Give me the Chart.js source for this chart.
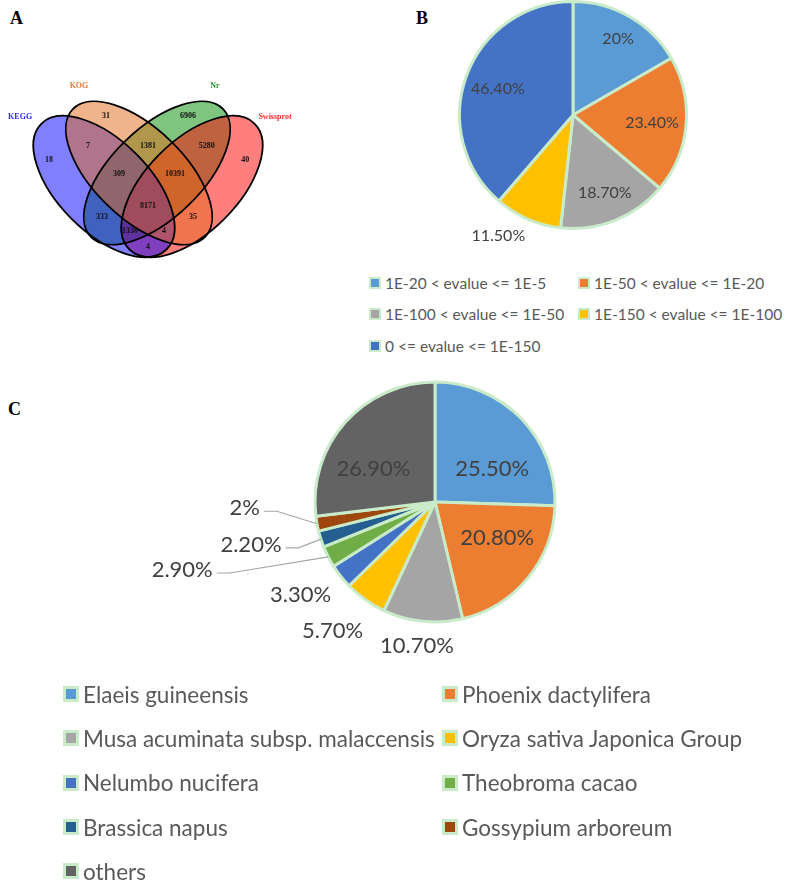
<!DOCTYPE html>
<html>
<head>
<meta charset="utf-8">
<script src="https://cdn.jsdelivr.net/npm/chart.js@4.4.0/dist/chart.umd.min.js"></script>
<style>
  body { margin: 0; background: #fff; width: 787px; height: 881px; position: relative; overflow: hidden; font-family: Lato, sans-serif; }
  .letter { position: absolute; font: bold 18px "Liberation Serif", serif; color: #000; }
  .holder { position: absolute; }
  .legend { position: absolute; display: grid; color: #595959; }
  .legend .item { display: flex; align-items: center; white-space: nowrap; }
  .legend .box { box-sizing: border-box; border-style: solid; border-color: #c9ebc9; }
</style>
</head>
<body>
<div class="letter" style="left:10px;top:8px;">A</div>
<div class="letter" style="left:416px;top:8px;">B</div>
<div class="letter" style="left:8px;top:399px;">C</div>

<div class="holder" style="left:0;top:0;"><canvas id="vennChart" width="340" height="300"></canvas></div>
<div class="holder" style="left:440px;top:0;"><canvas id="evalueChart" width="260" height="250"></canvas></div>
<div class="holder" style="left:140px;top:375px;"><canvas id="speciesChart" width="440" height="300"></canvas></div>

<div class="legend" id="evalueLegend" style="left:369px;top:267px;grid-template-columns:209px 209px;grid-auto-rows:31.5px;font-size:15.5px;"></div>
<div class="legend" id="speciesLegend" style="left:63px;top:672px;grid-template-columns:379px 379px;grid-auto-rows:44.3px;font-size:22.5px;"></div>

<script>
// ---- data ----

// A: venn region counts and where each number sits (unit coords)
const vennCounts = [18, 31, 6906, 40, 7, 1381, 5280, 309, 10391, 8171, 333, 35, 1330, 4, 4];
const vennX = [0.159, 0.355, 0.638, 0.835, 0.293, 0.500, 0.703, 0.400, 0.593, 0.500, 0.341, 0.655, 0.438, 0.555, 0.500];
const vennY = [0.622, 0.773, 0.773, 0.622, 0.670, 0.670, 0.670, 0.573, 0.573, 0.463, 0.425, 0.425, 0.377, 0.377, 0.322];
const vennSets = ['KEGG', 'KOG', 'Nr', 'Swissprot'];

// B: blast e-value distribution
const evalueLabels = ['1E-20 < evalue <= 1E-5', '1E-50 < evalue <= 1E-20', '1E-100 < evalue <= 1E-50', '1E-150 < evalue <= 1E-100', '0 <= evalue <= 1E-150'];
const evalueValues = [20, 23.4, 18.7, 11.5, 46.4];

// C: top species
const speciesLabels = ['Elaeis guineensis', 'Phoenix dactylifera', 'Musa acuminata subsp. malaccensis', 'Oryza sativa Japonica Group', 'Nelumbo nucifera', 'Theobroma cacao', 'Brassica napus', 'Gossypium arboreum', 'others'];
const speciesValues = [25.5, 20.8, 10.7, 5.7, 3.3, 2.9, 2.2, 2, 26.9];

// ---- look ----
const evalueColors = ['#5b9bd5', '#ed7d31', '#a5a5a5', '#ffc000', '#4472c4'];
const speciesColors = ['#5b9bd5', '#ed7d31', '#a5a5a5', '#ffc000', '#4472c4', '#70ad47', '#255e91', '#9e480e', '#636363'];
const sliceBorder = '#c9ebc9';

// ellipse geometry (unit coords), set order = vennSets
const ellipses = [
  { cx: 0.3483, cy: 0.5303, a: 0.3059, b: 0.1579, rot: -45, fill: 'rgba(0,0,255,0.5)', text: '#2b2bff', lx: 0.059, ly: 0.770 },
  { cx: 0.469, cy: 0.5769, a: 0.3172, b: 0.1552, rot: -44, fill: 'rgba(225,105,25,0.5)', text: '#e07b39', lx: 0.262, ly: 0.877 },
  { cx: 0.531, cy: 0.5769, a: 0.3172, b: 0.1552, rot: 44, fill: 'rgba(0,139,0,0.5)', text: '#2f8f2f', lx: 0.731, ly: 0.877 },
  { cx: 0.6517, cy: 0.5303, a: 0.3059, b: 0.1579, rot: 45, fill: 'rgba(255,0,0,0.5)', text: '#ff2a2a', lx: 0.938, ly: 0.770 }
];
const fillOrder = [2, 3, 0, 1];

// label spots: turn (deg from slice middle), reach (x outer radius)
const evalueSpots = [
  { turn: 0.6, reach: 0.78 }, { turn: 0.6, reach: 0.70 }, { turn: -0.5, reach: 0.74 },
  { turn: 8.2, reach: 1.25 }, { turn: -1.4, reach: 0.70 }
];
const speciesSpots = [
  { turn: 14.1, reach: 0.55 }, { turn: -9.1, reach: 0.60 }, { turn: 1.2, reach: 1.21 },
  { turn: 3.1, reach: 1.37 }, { turn: 3.8, reach: 1.36 }, { turn: 8.1, reach: 1.81, leader: true },
  { turn: -0.6, reach: 1.20, leader: true }, { turn: 7.1, reach: 1.32, leader: true }, { turn: -13.6, reach: 0.58 }
];

// ---- plugins ----
const vennPlugin = {
  id: 'vennShapes',
  beforeDatasetsDraw(chart) {
    const ctx = chart.ctx;
    const xs = chart.scales.x, ys = chart.scales.y;
    const px0 = xs.getPixelForValue(0), sx = xs.getPixelForValue(1) - px0;
    const py0 = ys.getPixelForValue(0), sy = py0 - ys.getPixelForValue(1);
    const trace = (e) => {
      ctx.save();
      ctx.translate(px0, py0);
      ctx.scale(sx, -sy);
      ctx.beginPath();
      ctx.ellipse(e.cx, e.cy, e.a, e.b, e.rot * Math.PI / 180, 0, Math.PI * 2);
      ctx.restore();
    };
    fillOrder.forEach(i => {
      trace(ellipses[i]);
      ctx.fillStyle = ellipses[i].fill;
      ctx.fill();
    });
    ctx.save();
    ctx.strokeStyle = '#000';
    ctx.lineWidth = 1.8;
    ellipses.forEach(e => { trace(e); ctx.stroke(); });
    ctx.restore();
  },
  afterDatasetsDraw(chart) {
    const ctx = chart.ctx;
    const xs = chart.scales.x, ys = chart.scales.y;
    ctx.save();
    ctx.textAlign = 'center';
    ctx.textBaseline = 'middle';
    ctx.font = 'bold 8px "Liberation Serif", serif';
    ctx.fillStyle = '#111';
    chart.getDatasetMeta(0).data.forEach((pt, i) => {
      ctx.fillText(String(vennCounts[i]), pt.x, pt.y);
    });
    ellipses.forEach((e, i) => {
      ctx.fillStyle = e.text;
      ctx.fillText(vennSets[i], xs.getPixelForValue(e.lx), ys.getPixelForValue(e.ly));
    });
    ctx.restore();
  }
};

const pctText = v => Number.isInteger(v) ? v + '%' : v.toFixed(2) + '%';

const pieLabels = {
  id: 'pieLabels',
  afterDatasetsDraw(chart, args, opts) {
    const ctx = chart.ctx;
    const values = chart.data.datasets[0].data;
    ctx.save();
    ctx.font = opts.font;
    ctx.textBaseline = 'middle';
    chart.getDatasetMeta(0).data.forEach((arc, i) => {
      const spot = opts.spots[i];
      const mid = (arc.startAngle + arc.endAngle) / 2;
      const ang = mid + spot.turn * Math.PI / 180;
      const r = arc.outerRadius * spot.reach;
      const x = arc.x + Math.cos(ang) * r;
      const y = arc.y + Math.sin(ang) * r;
      if (spot.leader) {
        ctx.strokeStyle = '#a6a6a6';
        ctx.lineWidth = 1.2;
        ctx.beginPath();
        ctx.moveTo(arc.x + Math.cos(mid) * arc.outerRadius, arc.y + Math.sin(mid) * arc.outerRadius);
        ctx.lineTo(x, y);
        ctx.lineTo(x - 13, y);
        ctx.stroke();
        ctx.fillStyle = opts.color;
        ctx.textAlign = 'right';
        ctx.fillText(pctText(values[i]), x - 17, y - 3);
      } else {
        ctx.fillStyle = opts.color;
        ctx.textAlign = 'center';
        ctx.fillText(pctText(values[i]), x, y);
      }
    });
    ctx.restore();
  }
};

// ---- charts ----
const vennChart = new Chart(document.getElementById('vennChart'), {
  type: 'scatter',
  data: {
    datasets: [{ data: vennX.map((x, i) => ({ x: x, y: vennY[i] })), pointRadius: 0 }]
  },
  options: {
    responsive: false,
    animation: false,
    layout: { padding: 0 },
    scales: {
      x: { display: false, min: -0.0103, max: 1.1621 },
      y: { display: false, min: 0.139, max: 1.1734 }
    },
    plugins: { legend: { display: false }, tooltip: { enabled: false } }
  },
  plugins: [vennPlugin]
});

function makePie(canvasId, labels, values, colors, padding, spots, font) {
  return new Chart(document.getElementById(canvasId), {
    type: 'pie',
    data: {
      labels: labels,
      datasets: [{
        data: values,
        backgroundColor: colors,
        borderColor: sliceBorder,
        borderWidth: 3,
        hoverOffset: 0
      }]
    },
    options: {
      responsive: false,
      animation: false,
      layout: { padding: padding },
      plugins: {
        legend: { display: false },
        tooltip: { enabled: false },
        pieLabels: { spots: spots, font: font, color: '#404040' }
      }
    },
    plugins: [pieLabels]
  });
}

const evalueChart = makePie('evalueChart', evalueLabels, evalueValues, evalueColors,
  { left: 18, top: 0, right: 12, bottom: 20 }, evalueSpots, '16px Lato, sans-serif');
const speciesChart = makePie('speciesChart', speciesLabels, speciesValues, speciesColors,
  { left: 173.5, top: 5.5, right: 23.5, bottom: 51.5 }, speciesSpots, '22px Lato, sans-serif');

// html legends, two columns like the original
function buildLegend(chart, el, boxSize, borderW) {
  const ds = chart.data.datasets[0];
  chart.data.labels.forEach((name, i) => {
    const item = document.createElement('div');
    item.className = 'item';
    const box = document.createElement('span');
    box.className = 'box';
    box.style.width = boxSize + 'px';
    box.style.height = boxSize + 'px';
    box.style.borderWidth = borderW + 'px';
    box.style.background = ds.backgroundColor[i];
    box.style.marginRight = '4px';
    const txt = document.createElement('span');
    txt.textContent = name;
    item.appendChild(box);
    item.appendChild(txt);
    el.appendChild(item);
  });
}
buildLegend(evalueChart, document.getElementById('evalueLegend'), 12, 2.5);
buildLegend(speciesChart, document.getElementById('speciesLegend'), 16, 3.5);
</script>
</body>
</html>
